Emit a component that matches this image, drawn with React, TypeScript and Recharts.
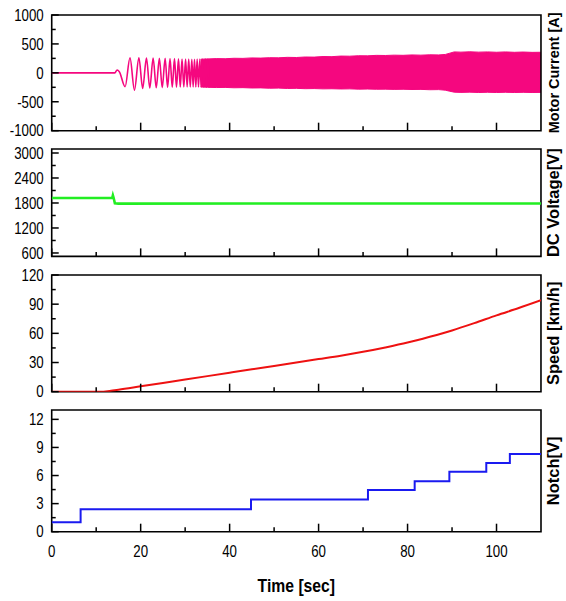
import React from 'react';
import { ComposedChart, Line, Area, XAxis, YAxis, ReferenceArea } from 'recharts';

// ---------------- data ----------------
const X_TICKS = [0, 10, 20, 30, 40, 50, 60, 70, 80, 90, 100];

// Motor current: early (resolved) oscillation, peaks / troughs
const curOscT = [0, 14.2, 14.7, 15.2, 16.5, 17.6, 18.6, 19.6, 20.45, 21.3, 22.05, 22.8, 23.5, 24.2, 24.85, 25.5, 26.05, 26.6, 27.1, 27.6, 28.05, 28.5, 28.9, 29.3, 29.7, 30.1, 30.45, 30.8, 31.15, 31.5, 31.8, 32.1, 32.4, 32.7, 33.0, 33.3, 33.6, 33.9, 34.2, 34.5, 34.8, 35.1, 35.4];
const curOscV = [0, 0, 50, 20, -240, 260, -300, 260, -270, 255, -262, 255, -258, 252, -255, 250, -252, 248, -250, 245, -248, 242, -245, 240, -244, 238, -243, 238, -242, 236, -242, 236, -244, 238, -245, 240, -246, 240, -248, 242, -248, 242, -250];
// Motor current: dense band envelope
const curBandT = [33.5, 35, 37, 39, 41, 43, 45, 47, 49, 51, 53, 55, 57, 59, 61, 63, 65, 67, 69, 71, 73, 75, 77, 79, 81, 83, 85, 87, 88.5, 89.5, 90.5, 92, 94, 96, 98, 100, 102, 104, 106, 108, 110];
const curBandHi = [236, 240, 246, 244, 252, 250, 258, 255, 262, 260, 268, 265, 274, 272, 282, 280, 290, 288, 296, 294, 302, 300, 306, 303, 310, 306, 312, 310, 318, 340, 362, 358, 364, 358, 362, 356, 362, 355, 360, 354, 356];
const curBandLo = [-244, -250, -254, -252, -258, -256, -262, -260, -266, -264, -270, -268, -274, -272, -277, -275, -279, -277, -282, -280, -284, -282, -286, -284, -288, -286, -292, -290, -300, -318, -334, -338, -334, -340, -336, -340, -336, -340, -337, -340, -338];

// DC voltage
const voltT = [0, 13.6, 13.75, 13.9, 14.2, 15, 110];
const voltV = [1920, 1920, 1985, 1930, 1795, 1785, 1788];

// Speed
const speedT = [0, 10, 11, 13, 15, 20, 25, 30, 35, 40, 45, 50, 55, 60, 65, 70, 75, 80, 85, 90, 95, 100, 105, 110];
const speedV = [0, 0, 0, 0.8, 2, 5.5, 9, 12.5, 16, 19.5, 23, 26.5, 30, 33.5, 37, 41, 45.5, 50.5, 56.5, 63, 70.5, 78.5, 86, 94];

// Notch
const notchT = [0, 6.5, 44.8, 71.1, 81.6, 89.4, 97.7, 103, 110];
const notchV = [1.0, 2.4, 3.45, 4.45, 5.4, 6.4, 7.35, 8.3, 8.3];

// Axis ticks
const CUR_TICKS = [-1000, -750, -500, -250, 0, 250, 500, 750, 1000];
const VOLT_TICKS = [600, 900, 1200, 1500, 1800, 2100, 2400, 2700, 3000];
const SPEED_TICKS = [0, 15, 30, 45, 60, 75, 90, 105, 120];
const NOTCH_TICKS = [0, 1.5, 3, 4.5, 6, 7.5, 9, 10.5, 12];

// ---------------- tables ----------------
const curData = (() => {
  const rows: any[] = [];
  curOscT.forEach((t, k) => rows.push({ t, i: curOscV[k] }));
  curBandT.forEach((t, k) => rows.push({ t, band: [curBandLo[k], curBandHi[k]] }));
  rows.sort((a, b) => a.t - b.t);
  return rows;
})();
const voltData = voltT.map((t, k) => ({ t, v: voltV[k] }));
const speedData = speedT.map((t, k) => ({ t, s: speedV[k] }));
const notchData = notchT.map((t, k) => ({ t, n: notchV[k] }));

// ---------------- styling ----------------
const FONT = '"Liberation Sans", Arial, sans-serif';
const NARROW = 0.83;

const isMajor = (v: number, step: number) => Math.abs(v / step - Math.round(v / step)) < 1e-6;

function XTick(props: any) {
  const { x, y, payload, showLabel } = props;
  const major = isMajor(payload.value, 20);
  const len = major ? 8 : 4.5;
  return (
    <g>
      <line x1={x} x2={x} y1={y} y2={y - len} stroke="#000" strokeWidth={1.5} />
      {showLabel && major && (
        <text
          transform={`translate(${x},${y + 25}) scale(${NARROW},1)`}
          x={0}
          y={0}
          textAnchor="middle"
          fontFamily={FONT}
          fontSize={16}
          fill="#000"
        >
          {payload.value}
        </text>
      )}
    </g>
  );
}

function YTick(props: any) {
  const { x, y, payload, step } = props;
  const major = isMajor(payload.value, step);
  const len = major ? 7 : 4;
  return (
    <g>
      <line x1={x} x2={x + len} y1={y} y2={y} stroke="#000" strokeWidth={1.5} />
      {major && (
        <text
          transform={`translate(${x - 8},${y}) scale(${NARROW},1)`}
          x={0}
          y={0}
          dy="0.36em"
          textAnchor="end"
          fontFamily={FONT}
          fontSize={16}
          fill="#000"
        >
          {payload.value}
        </text>
      )}
    </g>
  );
}

function TimeLabel(props: any) {
  const vb = props.viewBox || {};
  const cx = vb.x + vb.width / 2;
  const by = vb.y + vb.height - 9.5;
  return (
    <text
      transform={`translate(${cx},${by}) scale(0.85,1)`}
      x={0}
      y={0}
      textAnchor="middle"
      fontFamily={FONT}
      fontWeight="bold"
      fontSize={18.5}
      fill="#000"
    >
      Time [sec]
    </text>
  );
}

function Panel(props: any) {
  const { top, plotH, xAxisH, data, yDomain, yTicks, yStep, label, labelSize, showX, children } = props;
  const MT = 10;
  const height = MT + plotH + xAxisH;
  return (
    <div style={{ position: 'absolute', left: 0, top: top - MT }}>
      <ComposedChart width={566} height={height} data={data} margin={{ top: MT, right: 0, bottom: 0, left: 7.7 }}>
        <XAxis
          dataKey="t"
          type="number"
          domain={[0, 110]}
          ticks={X_TICKS}
          interval={0}
          allowDataOverflow
          axisLine={false}
          tickLine={false}
          tickSize={0}
          tickMargin={0}
          height={xAxisH}
          tick={(p: any) => <XTick {...p} showLabel={showX} />}
          label={showX ? { content: (p: any) => <TimeLabel {...p} />, position: 'insideBottom' } : undefined}
        />
        <YAxis
          yAxisId="left"
          type="number"
          width={44}
          domain={yDomain}
          ticks={yTicks}
          interval={0}
          allowDataOverflow
          axisLine={false}
          tickLine={false}
          tickSize={0}
          tickMargin={0}
          tick={(p: any) => <YTick {...p} step={yStep} />}
        />
        <YAxis
          yAxisId="right"
          orientation="right"
          type="number"
          width={25}
          domain={[0, 1]}
          tick={false}
          axisLine={false}
          tickLine={false}
          label={{
            value: label,
            angle: -90,
            position: 'center',
            style: { fontFamily: FONT, fontWeight: 'bold', fontSize: labelSize, fill: '#000' },
          }}
        />
        {children}
        <ReferenceArea
          yAxisId="left"
          x1={0}
          x2={110}
          y1={yDomain[0]}
          y2={yDomain[1]}
          fill="none"
          fillOpacity={0}
          stroke="#000"
          strokeWidth={1.6}
          ifOverflow="visible"
        />
      </ComposedChart>
    </div>
  );
}

export default function App() {
  return (
    <div style={{ position: 'absolute', left: 0, top: 0, width: 566, height: 601, background: '#fff' }}>
      <Panel top={15} plotH={115.7} xAxisH={11} data={curData} yDomain={[-1000, 1000]} yTicks={CUR_TICKS} yStep={500} label="Motor Current [A]" labelSize={14.5}>
        <Area yAxisId="left" type="linear" dataKey="band" fill="#F5077F" fillOpacity={1} stroke="#F5077F" strokeWidth={1} connectNulls isAnimationActive={false} dot={false} activeDot={false} />
        <Line yAxisId="left" type="monotone" dataKey="i" stroke="#F5077F" strokeWidth={1.6} connectNulls dot={false} activeDot={false} isAnimationActive={false} />
      </Panel>
      <Panel top={149.3} plotH={107.4} xAxisH={11} data={voltData} yDomain={[518, 3096]} yTicks={VOLT_TICKS} yStep={600} label="DC Voltage[V]" labelSize={16.5}>
        <Line yAxisId="left" type="linear" dataKey="v" stroke="#22EE22" strokeWidth={2.6} dot={false} activeDot={false} isAnimationActive={false} />
      </Panel>
      <Panel top={275} plotH={116.7} xAxisH={11} data={speedData} yDomain={[0, 120]} yTicks={SPEED_TICKS} yStep={30} label="Speed [km/h]" labelSize={16.5}>
        <Line yAxisId="left" type="monotone" dataKey="s" stroke="#EE1111" strokeWidth={2} dot={false} activeDot={false} isAnimationActive={false} />
      </Panel>
      <Panel top={410} plotH={121.7} xAxisH={69.3} data={notchData} yDomain={[0, 13]} yTicks={NOTCH_TICKS} yStep={3} label="Notch[V]" labelSize={16.5} showX>
        <Line yAxisId="left" type="stepAfter" dataKey="n" stroke="#1A1AF0" strokeWidth={2} dot={false} activeDot={false} isAnimationActive={false} />
      </Panel>
    </div>
  );
}
